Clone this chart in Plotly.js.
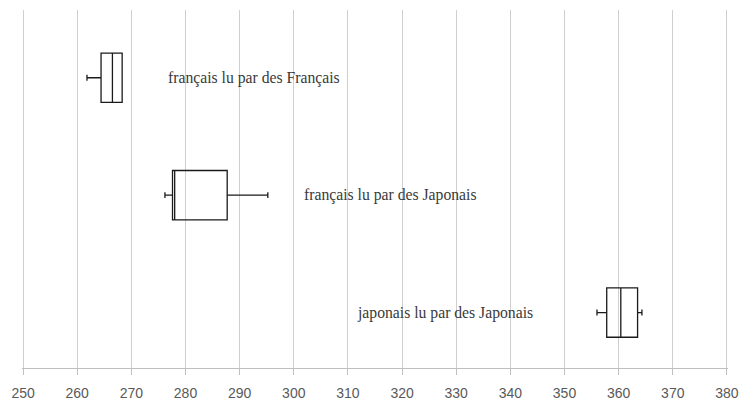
<!DOCTYPE html>
<html>
<head>
<meta charset="utf-8">
<script src="https://cdn.plot.ly/plotly-3.0.1.min.js"></script>
<style>
  html, body { margin: 0; padding: 0; background: #ffffff; }
  #chart { width: 741px; height: 403px; }
</style>
</head>
<body>
<div id="chart"></div>
<script>
// Reading-speed groups, top to bottom
const groups = ["français lu par des Français", "français lu par des Japonais", "japonais lu par des Japonais"];

// Five-number summaries per group
const lowerWhisker = [261.8, 276.2, 356.0];
const quartile1    = [264.4, 277.6, 357.8];
const medians      = [266.5, 278.0, 360.4];
const quartile3    = [268.3, 287.7, 363.5];
const upperWhisker = [268.3, 295.2, 364.3];

// Where each group caption begins along the value axis
const labelStart = [277.0, 302.1, 311.8];

// Axis ticks
const tickValues = [250, 260, 270, 280, 290, 300, 310, 320, 330, 340, 350, 360, 370, 380];

const boxes = {
  type: "box",
  orientation: "h",
  y: groups,
  q1: quartile1,
  median: medians,
  q3: quartile3,
  lowerfence: lowerWhisker,
  upperfence: upperWhisker,
  boxpoints: false,
  width: 0.42,
  whiskerwidth: 0.12,
  fillcolor: "rgba(255,255,255,0)",
  line: { color: "#1a1a1a", width: 1.3 },
  hoverinfo: "skip",
  showlegend: false
};

const captions = groups.map((g, i) => ({
  x: labelStart[i],
  y: g,
  xref: "x",
  yref: "y",
  text: g,
  showarrow: false,
  xanchor: "left",
  yanchor: "middle",
  xshift: -3,
  font: { family: "Liberation Serif, 'Times New Roman', serif", size: 15.7, color: "#3a3a3a" }
}));

const layout = {
  width: 741,
  height: 403,
  margin: { l: 22.2, r: 12.5, t: 10, b: 35, pad: 0 },
  paper_bgcolor: "#ffffff",
  plot_bgcolor: "#ffffff",
  xaxis: {
    range: [249.8, 380.2],
    tickvals: tickValues,
    ticktext: tickValues.map(String),
    showgrid: true,
    gridcolor: "#cfcfcf",
    gridwidth: 1,
    zeroline: false,
    showline: true,
    linecolor: "#bfbfbf",
    linewidth: 1,
    ticks: "outside",
    ticklen: 6,
    tickcolor: "#bfbfbf",
    ticklabelstandoff: 6,
    ticklabeloverflow: "allow",
    tickfont: { family: "'Liberation Sans Narrow', 'Liberation Sans', sans-serif", size: 14, color: "#595959" },
    fixedrange: true
  },
  yaxis: {
    type: "category",
    categoryorder: "array",
    categoryarray: groups,
    range: [2.472, -0.577],
    showticklabels: false,
    showgrid: false,
    zeroline: false,
    showline: false,
    ticks: "",
    fixedrange: true
  },
  annotations: captions,
  showlegend: false
};

Plotly.newPlot("chart", [boxes], layout, { displayModeBar: false, staticPlot: true });
</script>
</body>
</html>
